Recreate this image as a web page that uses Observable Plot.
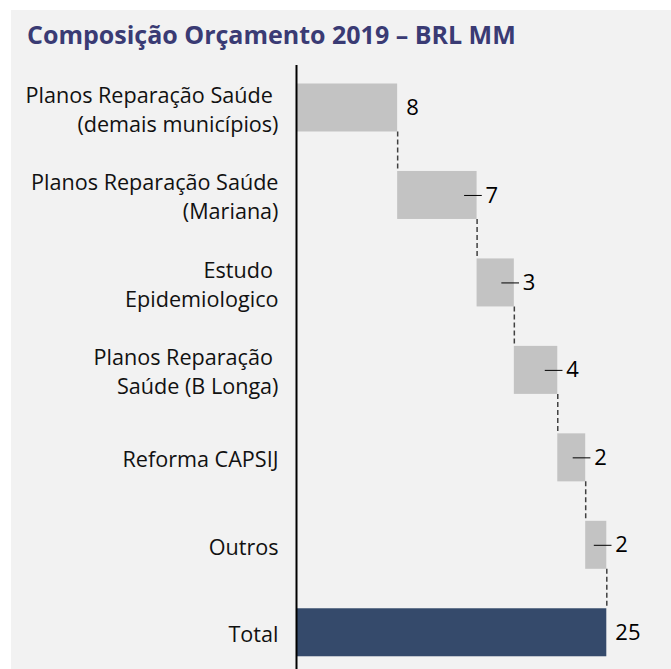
<!DOCTYPE html>
<html><head><meta charset="utf-8">
<script src="https://cdn.jsdelivr.net/npm/d3@7"></script>
<script src="https://cdn.jsdelivr.net/npm/@observablehq/plot@0.6"></script>
<style>
body{margin:0;background:#fff;}
#wrap{position:relative;width:671px;height:669px;overflow:hidden;}
#panel{position:absolute;left:11px;top:10px;right:0;bottom:0;background:#f2f2f2;}
#title{position:absolute;left:27px;top:22px;font-family:"Open Sans",sans-serif;font-weight:700;font-size:25px;line-height:1;color:#3a3b74;white-space:nowrap;}
#chart{position:absolute;left:0;top:60px;}
</style>
</head><body>
<div id="wrap"><div id="panel"></div><div id="title">Composição Orçamento 2019 – BRL MM</div><div id="chart"></div></div>
<script>
const categories = [
  "Planos Reparação Saúde\u00a0\n(demais municípios)",
  "Planos Reparação Saúde\n(Mariana)",
  "Estudo\u00a0\nEpidemiologico",
  "Planos Reparação\u00a0\nSaúde (B Longa)",
  "Reforma CAPSIJ",
  "Outros",
  "Total"
];
const values = [8.15, 6.4, 3.0, 3.5, 2.25, 1.7];
const totalValue = 25.0;
const valueLabels = ["8", "7", "3", "4", "2", "2", "25"];

let acc = 0;
const rows = categories.map((label, i) => {
  if (i < values.length) {
    const start = acc; acc += values[i];
    return {i, label, start, end: acc, text: valueLabels[i], total: false};
  }
  return {i, label, start: 0, end: totalValue, text: valueLabels[i], total: true};
});
const steps = rows.filter(d => !d.total);
const connectors = rows.slice(0, -1).map(d => ({x: d.end, from: d.i, to: d.i + 1}));
const half = 0.2744;

const chart = Plot.plot({
  width: 671,
  height: 609,
  marginLeft: 296,
  marginRight: 64.7,
  marginTop: 5,
  marginBottom: 0,
  style: {fontFamily: "Open Sans", background: "transparent", overflow: "visible"},
  x: {domain: [0, 25], axis: null},
  y: {domain: [-0.486, 6.42], reverse: true, axis: null},
  marks: [
    Plot.rectX(steps, {x1: "start", x2: "end", y1: d => d.i - half, y2: d => d.i + half, fill: "#c3c3c3"}),
    Plot.rectX(rows.filter(d => d.total), {x1: "start", x2: "end", y1: d => d.i - half, y2: d => d.i + half, fill: "#354a6b"}),
    Plot.ruleX(connectors, {x: "x", y1: d => d.from + half, y2: d => d.to - half, stroke: "#404040", strokeWidth: 1.5, strokeDasharray: "5,3"}),
    Plot.ruleX([0], {stroke: "#000", strokeWidth: 2}),
    Plot.ruleY(steps.filter(d => d.i > 0), {x1: "end", x2: "end", y: "i", insetLeft: -12.5, insetRight: -5.2, stroke: "#000", strokeWidth: 1}),
    Plot.text(rows, {x: "end", y: "i", text: "text", textAnchor: "start", fontSize: 22, fill: "#000", dx: 8.5}),
    Plot.text(rows, {x: 0, y: "i", text: "label", textAnchor: "end", dx: -18, fontSize: 21.6, lineHeight: 1.34, fill: "#111"})
  ]
});
document.getElementById("chart").appendChild(chart);
</script>
</body></html>
